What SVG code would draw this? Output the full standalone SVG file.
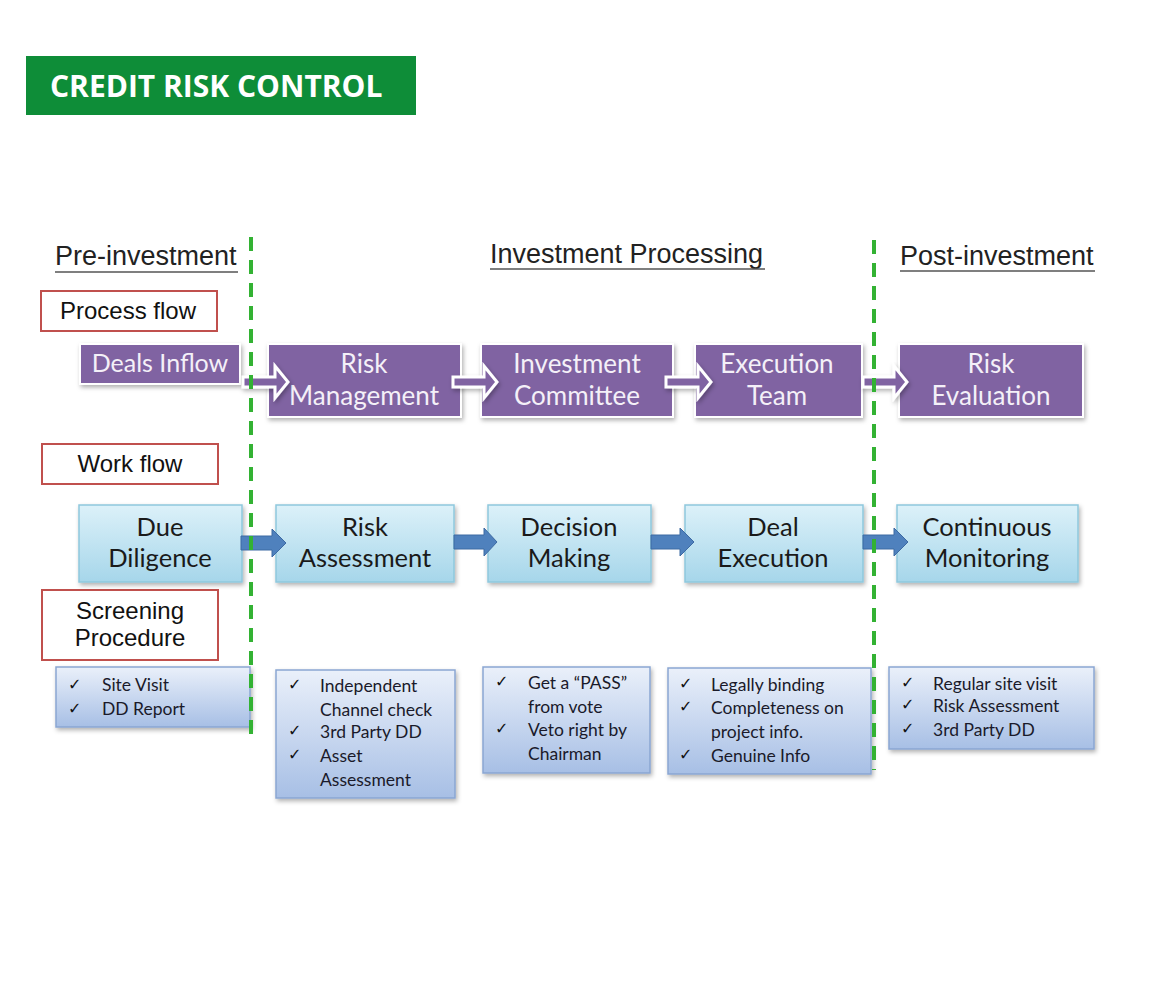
<svg xmlns="http://www.w3.org/2000/svg" width="1152" height="1000" viewBox="0 0 1152 1000">
<defs>
<linearGradient id="gBlue" x1="0" y1="0" x2="0" y2="1">
<stop offset="0" stop-color="#dcf1f9"/>
<stop offset="1" stop-color="#a6d6ea"/>
</linearGradient>
<linearGradient id="gScr" x1="0" y1="0" x2="0" y2="1">
<stop offset="0" stop-color="#eaf0fa"/>
<stop offset="1" stop-color="#a7bfe5"/>
</linearGradient>
<filter id="sh" x="-10%" y="-10%" width="130%" height="140%">
<feDropShadow dx="1.5" dy="2.5" stdDeviation="2" flood-color="#000" flood-opacity="0.3"/>
</filter>
</defs>
<style>
.title{font-family:"Open Sans","DejaVu Sans",sans-serif;font-weight:bold;font-size:30px;fill:#fff}
.hdr{font-family:"Liberation Sans",Arial,sans-serif;font-size:27px;fill:#222}
.hl{stroke:#555;stroke-width:1.5}
.lbl{fill:#fff;stroke:#c0504d;stroke-width:2}
.lt{font-family:"Liberation Sans",Arial,sans-serif;font-size:24px;fill:#111;text-anchor:middle}
.pbox{fill:#8064a2;stroke:#fff;stroke-width:2;filter:url(#sh)}
.pt{font-family:Lato,"Open Sans",sans-serif;font-size:26px;fill:#f4f0f8;text-anchor:middle}
.parr{fill:#8064a2;stroke:#fff;stroke-width:3;filter:url(#sh)}
.bbox{fill:url(#gBlue);stroke:#8ec8dd;stroke-width:1.5;filter:url(#sh)}
.bt{font-family:Lato,"Open Sans",sans-serif;font-size:25.5px;fill:#1a1a1a;text-anchor:middle}
.barr{fill:#4f81bd;stroke:#3d6aa3;stroke-width:1}
.sbox{fill:url(#gScr);stroke:#8aa6d2;stroke-width:1.5;filter:url(#sh)}
.st{font-family:Lato,"Open Sans",sans-serif;font-size:17.5px;fill:#1a1a2a}
.ck{font-family:"DejaVu Sans",sans-serif;font-size:16px;fill:#111}
.dash{stroke:#33b233;stroke-width:4;stroke-dasharray:14 9;fill:none}
</style>
<rect width="1152" height="1000" fill="#fff"/>

<g id="title">
<rect x="26" y="56" width="390" height="59" fill="#0e8d38"/>
<text class="title" x="50" y="97">CREDIT RISK CONTROL</text>
</g>

<g id="headers">
<text class="hdr" x="55" y="265">Pre-investment</text>
<line class="hl" x1="55" y1="272" x2="238" y2="272"/>
<text class="hdr" x="490" y="263">Investment Processing</text>
<line class="hl" x1="490" y1="269" x2="765" y2="269"/>
<text class="hdr" x="900" y="265">Post-investment</text>
<line class="hl" x1="900" y1="271" x2="1095" y2="271"/>
</g>

<g id="label-process">
<rect class="lbl" x="41" y="291" width="176" height="40"/>
<text class="lt" x="128" y="319">Process flow</text>
</g>
<g id="label-work">
<rect class="lbl" x="42" y="444" width="176" height="40"/>
<text class="lt" x="130" y="472">Work flow</text>
</g>
<g id="label-screening">
<rect class="lbl" x="42" y="590" width="176" height="70"/>
<text class="lt" x="130" y="619">Screening</text>
<text class="lt" x="130" y="646">Procedure</text>
</g>

<g id="p1"><rect class="pbox" x="80" y="344" width="160" height="40"/><text class="pt" x="160" y="372" style="font-size:25px">Deals Inflow</text></g>
<g id="p2"><rect class="pbox" x="268" y="344" width="193" height="73"/><text class="pt" x="364" y="373">Risk</text><text class="pt" x="364" y="405">Management</text></g>
<g id="p3"><rect class="pbox" x="481" y="344" width="192" height="73"/><text class="pt" x="577" y="373">Investment</text><text class="pt" x="577" y="405">Committee</text></g>
<g id="p4"><rect class="pbox" x="695" y="344" width="167" height="73"/><text class="pt" x="777" y="373">Execution</text><text class="pt" x="777" y="405">Team</text></g>
<g id="p5"><rect class="pbox" x="899" y="344" width="184" height="73"/><text class="pt" x="991" y="373">Risk</text><text class="pt" x="991" y="405">Evaluation</text></g>

<g id="w1"><rect class="bbox" x="79" y="505" width="163" height="77"/><text class="bt" x="160" y="536">Due</text><text class="bt" x="160" y="567">Diligence</text></g>
<g id="w2"><rect class="bbox" x="276" y="505" width="178" height="77"/><text class="bt" x="365" y="536">Risk</text><text class="bt" x="365" y="567">Assessment</text></g>
<g id="w3"><rect class="bbox" x="488" y="505" width="163" height="77"/><text class="bt" x="569" y="536">Decision</text><text class="bt" x="569" y="567">Making</text></g>
<g id="w4"><rect class="bbox" x="685" y="505" width="178" height="77"/><text class="bt" x="773" y="536">Deal</text><text class="bt" x="773" y="567">Execution</text></g>
<g id="w5"><rect class="bbox" x="897" y="505" width="181" height="77"/><text class="bt" x="987" y="536">Continuous</text><text class="bt" x="987" y="567">Monitoring</text></g>

<g id="s1"><rect class="sbox" x="56" y="667" width="194" height="60"/>
<text class="ck" x="68" y="690">✓</text><text class="st" x="102" y="691">Site Visit</text>
<text class="ck" x="68" y="714">✓</text><text class="st" x="102" y="715">DD Report</text></g>
<g id="s2"><rect class="sbox" x="276" y="670" width="179" height="128"/>
<text class="ck" x="288" y="690">✓</text><text class="st" x="320" y="692">Independent</text>
<text class="st" x="320" y="716">Channel  check</text>
<text class="ck" x="288" y="736">✓</text><text class="st" x="320" y="738">3rd Party DD</text>
<text class="ck" x="288" y="760">✓</text><text class="st" x="320" y="762">Asset</text>
<text class="st" x="320" y="786">Assessment</text></g>
<g id="s3"><rect class="sbox" x="483" y="667" width="167" height="106"/>
<text class="ck" x="495" y="687">✓</text><text class="st" x="528" y="689">Get a “PASS”</text>
<text class="st" x="528" y="713">from vote</text>
<text class="ck" x="495" y="734">✓</text><text class="st" x="528" y="736">Veto right  by</text>
<text class="st" x="528" y="760">Chairman</text></g>
<g id="s4"><rect class="sbox" x="668" y="668" width="203" height="106"/>
<text class="ck" x="679" y="689">✓</text><text class="st" x="711" y="691">Legally binding</text>
<text class="ck" x="679" y="712">✓</text><text class="st" x="711" y="714">Completeness  on</text>
<text class="st" x="711" y="738">project info.</text>
<text class="ck" x="679" y="760">✓</text><text class="st" x="711" y="762">Genuine  Info</text></g>
<g id="s5"><rect class="sbox" x="889" y="667" width="205" height="82"/>
<text class="ck" x="901" y="688">✓</text><text class="st" x="933" y="690">Regular site visit</text>
<text class="ck" x="901" y="710">✓</text><text class="st" x="933" y="712">Risk Assessment</text>
<text class="ck" x="901" y="734">✓</text><text class="st" x="933" y="736">3rd Party DD</text></g>

<g id="connectors">
<path class="parr" d="M243,377 H275 V366 L288,382 L275,398 V387 H243 Z"/>
<path class="parr" d="M453,377 H484 V366 L497,382 L484,398 V387 H453 Z"/>
<path class="parr" d="M666,377 H698 V366 L711,382 L698,398 V387 H666 Z"/>
<path class="parr" d="M863,377 H894 V366 L907,382 L894,398 V387 H863 Z"/>
<path class="barr" d="M241,536 H272 V529 L286,543 L272,557 V550 H241 Z"/>
<path class="barr" d="M454,535 H484 V528 L497,542 L484,556 V549 H454 Z"/>
<path class="barr" d="M651,535 H680 V528 L694,542 L680,556 V549 H651 Z"/>
<path class="barr" d="M863,535 H894 V528 L908,542 L894,556 V549 H863 Z"/>
</g>

<g id="dividers">
<line class="dash" x1="251" y1="237" x2="251" y2="736"/>
<line class="dash" x1="874" y1="240" x2="874" y2="770"/>
</g>
</svg>
